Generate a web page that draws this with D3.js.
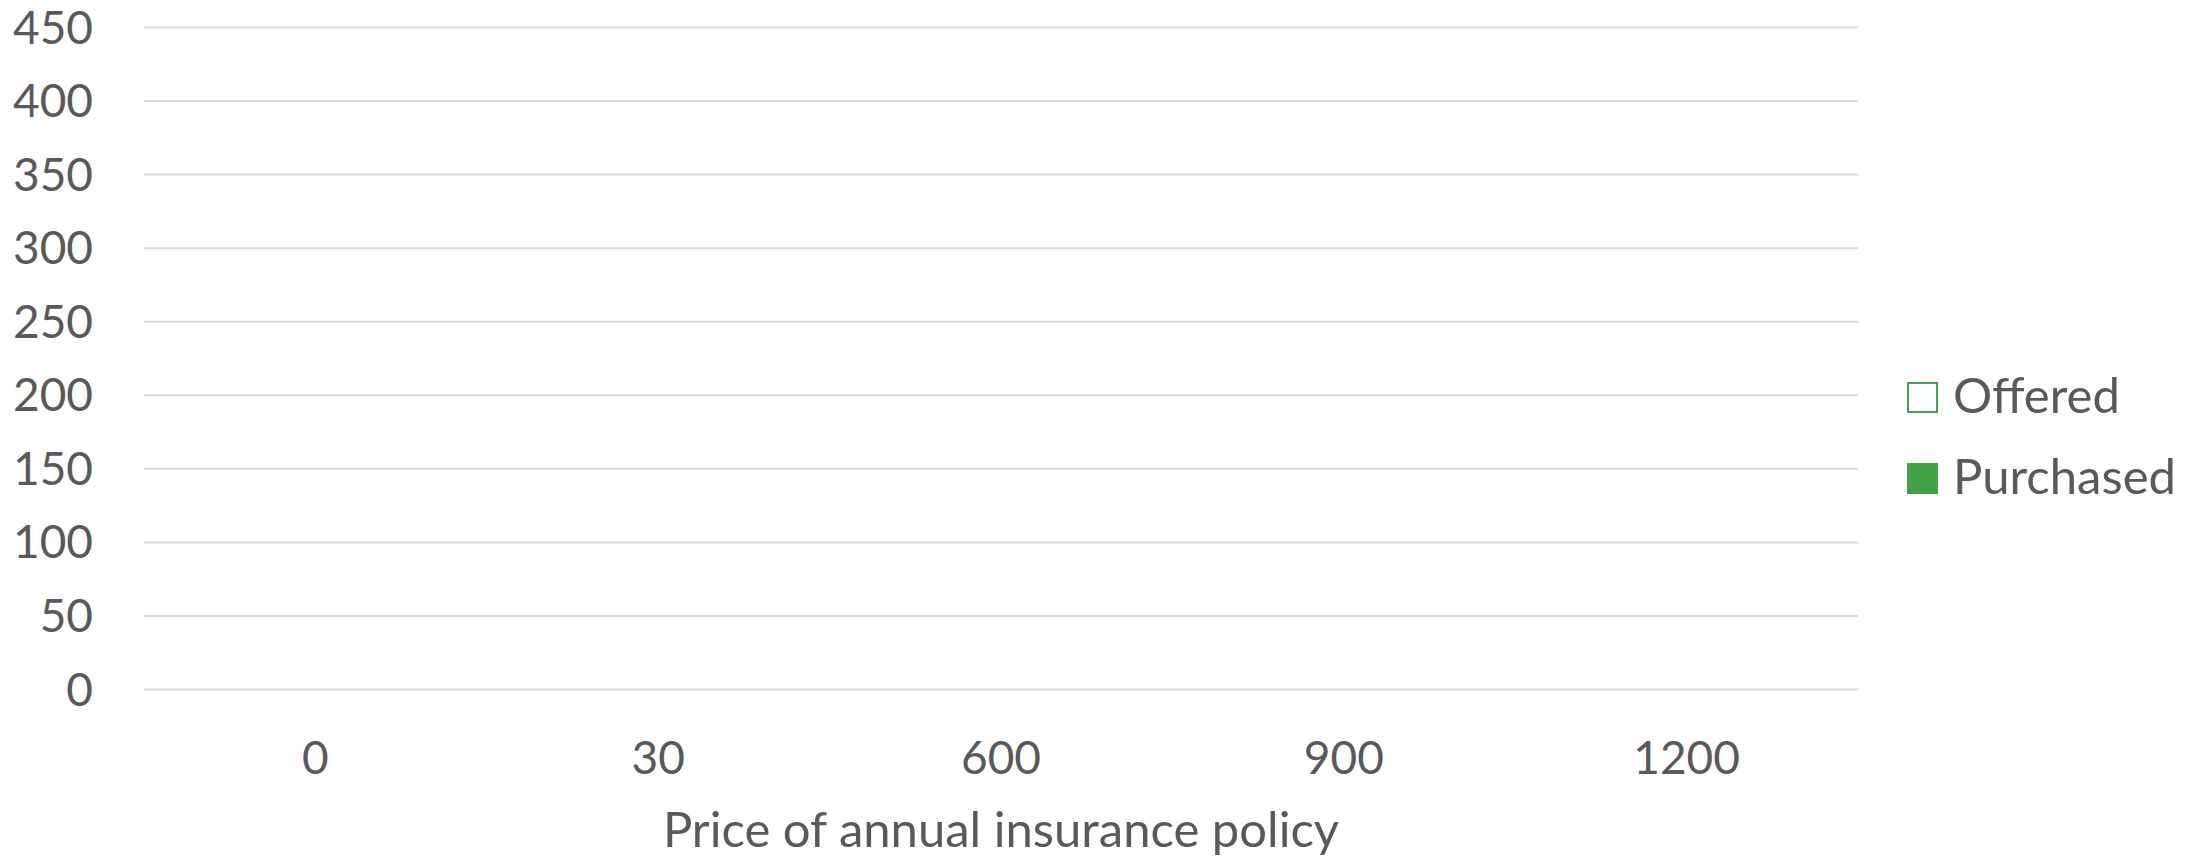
<!DOCTYPE html>
<html>
<head>
<meta charset="utf-8">
<script src="https://cdn.jsdelivr.net/npm/d3@7"></script>
<style>
  html, body { margin: 0; padding: 0; background: #fff; }
  svg { display: block; }
  text { font-family: Lato, "Open Sans", sans-serif; fill: #595959; }
</style>
</head>
<body>
<svg id="chart" width="2204" height="859"></svg>
<script>
// Data (no visible bars: all values are zero)
const categories = ["0", "30", "600", "900", "1200"];
const offered = [0, 0, 0, 0, 0];
const purchased = [0, 0, 0, 0, 0];
const yTicks = [0, 50, 100, 150, 200, 250, 300, 350, 400, 450];
const seriesNames = ["Offered", "Purchased"];
const xTitle = "Price of annual insurance policy";

const green = "#43A047";
const svg = d3.select("#chart");
const margin = { left: 144, right: 2204 - 1858, top: 27, bottom: 859 - 689 };
const W = 2204, H = 859;

const x = d3.scaleBand().domain(categories).range([margin.left, W - margin.right]).paddingInner(0).paddingOuter(0);
const y = d3.scaleLinear().domain([0, 450]).range([H - margin.bottom, margin.top]);
const xs = d3.scaleBand().domain(seriesNames).range([0, x.bandwidth()]).paddingInner(0.1).paddingOuter(0.6);

// gridlines
const yAxis = d3.axisLeft(y).tickValues(yTicks).tickSize(-(W - margin.left - margin.right)).tickPadding(51);
const gy = svg.append("g").attr("transform", `translate(${margin.left},0)`).call(yAxis);
gy.select(".domain").remove();
gy.selectAll(".tick line").attr("stroke", "#d9d9d9").attr("stroke-width", 2);
gy.selectAll(".tick text").attr("font-size", 46).attr("dy", "0.35em").style("fill", "#595959");

// x axis labels
const xAxis = d3.axisBottom(x).tickSize(0).tickPadding(52);
const gx = svg.append("g").attr("transform", `translate(0,${y(0)})`).call(xAxis);
gx.select(".domain").remove();
gx.selectAll(".tick text").attr("font-size", 46).style("fill", "#595959");

// bars (only non-zero values produce visible marks)
const rows = categories.map((c, i) => ({ c, vals: [{ s: "Offered", v: offered[i] }, { s: "Purchased", v: purchased[i] }] }));
const groups = svg.append("g").selectAll("g").data(rows).join("g")
  .attr("transform", d => `translate(${x(d.c)},0)`);
groups.selectAll("rect").data(d => d.vals.filter(e => e.v > 0)).join("rect")
  .attr("x", d => xs(d.s))
  .attr("width", xs.bandwidth())
  .attr("y", d => y(d.v))
  .attr("height", d => y(0) - y(d.v))
  .attr("fill", d => d.s === "Offered" ? "#fff" : green)
  .attr("stroke", green)
  .attr("stroke-width", 2);

// axis title
svg.append("text").attr("x", (margin.left + W - margin.right) / 2).attr("y", 847)
  .attr("text-anchor", "middle").attr("font-size", 49).text(xTitle);

// legend
const lg = svg.append("g").selectAll("g").data(seriesNames).join("g")
  .attr("transform", (d, i) => `translate(1907,${382 + i * 81})`);
lg.append("rect").attr("x", 1).attr("y", 1).attr("width", 29).attr("height", 29)
  .attr("fill", (d, i) => i === 0 ? "#fff" : green)
  .attr("stroke", green).attr("stroke-width", 2);
lg.append("text").attr("x", 46).attr("y", 31).attr("font-size", 49).text(d => d);
</script>
</body>
</html>
